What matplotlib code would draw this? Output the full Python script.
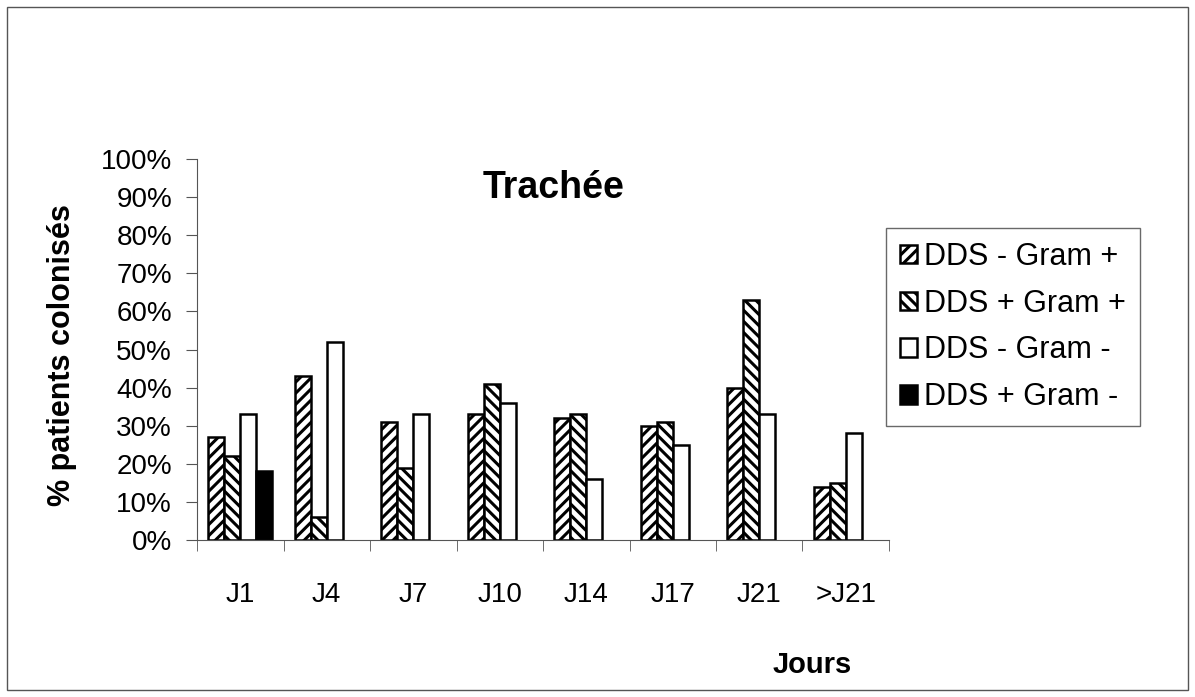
import matplotlib
matplotlib.use("Agg")
import matplotlib.pyplot as plt
import numpy as np
from matplotlib.patches import Rectangle

# Data (% of colonised patients)
jours = ['J1', 'J4', 'J7', 'J10', 'J14', 'J17', 'J21', '>J21']
series_names = ['DDS - Gram +', 'DDS + Gram +', 'DDS - Gram -', 'DDS + Gram -']
dds_moins_gram_pos = [27, 43, 31, 33, 32, 30, 40, 14]
dds_plus_gram_pos = [22, 6, 19, 41, 33, 31, 63, 15]
dds_moins_gram_neg = [33, 52, 33, 36, 16, 25, 33, 28]
dds_plus_gram_neg = [18, 0, 0, 0, 0, 0, 0, 0]

plt.rcParams['font.family'] = ['Liberation Sans', 'DejaVu Sans']
plt.rcParams['hatch.linewidth'] = 2.2

fig = plt.figure(figsize=(11.95, 6.97), dpi=100)
ax = fig.add_axes([197 / 1195, 1 - 540 / 697, (889 - 197) / 1195, (540 - 159) / 697])

x = np.arange(len(jours))
width = 0.185
all_values = [dds_moins_gram_pos, dds_plus_gram_pos, dds_moins_gram_neg, dds_plus_gram_neg]
hatches = ['///', '\\\\\\', '', '']
faces = ['white', 'white', 'white', 'black']

for i, (vals, name) in enumerate(zip(all_values, series_names)):
    vals = np.array(vals, dtype=float)
    # empty categories have no bar at all
    vals[vals == 0] = np.nan
    ax.bar(x + (i - 1.5) * width, vals, width, label=name, color=faces[i],
           edgecolor='black', hatch=hatches[i], linewidth=1.8)

ax.set_xlim(-0.5, len(jours) - 0.5)
ax.set_ylim(0, 100)
ax.set_yticks(range(0, 101, 10))
ax.set_yticklabels([f'{v}%' for v in range(0, 101, 10)], fontsize=20)
ax.set_xticks(x)
ax.set_xticklabels(jours, fontsize=20)
ax.set_xticks(np.arange(-0.5, len(jours)), minor=True)
ax.tick_params(axis='x', which='major', length=0, pad=30)
ax.tick_params(axis='x', which='minor', length=8, direction='out', color='#555555')
ax.tick_params(axis='y', length=8, direction='out', color='#555555', pad=10)

for side in ['top', 'right']:
    ax.spines[side].set_visible(False)
ax.spines['left'].set_color('#555555')
ax.spines['bottom'].set_color('#555555')

ax.text(0.515, 0.925, 'Trachée', transform=ax.transAxes, ha='center', va='center',
        fontsize=27, fontweight='bold')

fig.text(62 / 1195, 1 - 355 / 697, '% patients colonisés', rotation=90,
         ha='center', va='center', fontsize=22, fontweight='bold')
fig.text(812 / 1195, 1 - 665 / 697, 'Jours', ha='center', va='center',
         fontsize=21, fontweight='bold')

leg = ax.legend(loc='upper left', bbox_to_anchor=(886 / 1195, 1 - 228 / 697),
                bbox_transform=fig.transFigure, fontsize=22, frameon=True,
                fancybox=False, edgecolor='#444444', borderaxespad=0,
                handlelength=0.55, handleheight=0.55, handletextpad=0.25,
                labelspacing=0.55, borderpad=0.45)
leg.get_frame().set_linewidth(1.0)

# thin frame around the whole figure
fig.patches.append(Rectangle((7 / 1195, 7 / 697), 1181 / 1195, 683 / 697,
                             transform=fig.transFigure, fill=False,
                             edgecolor='#555555', linewidth=1.0))

fig.savefig('out.png', dpi=100)
